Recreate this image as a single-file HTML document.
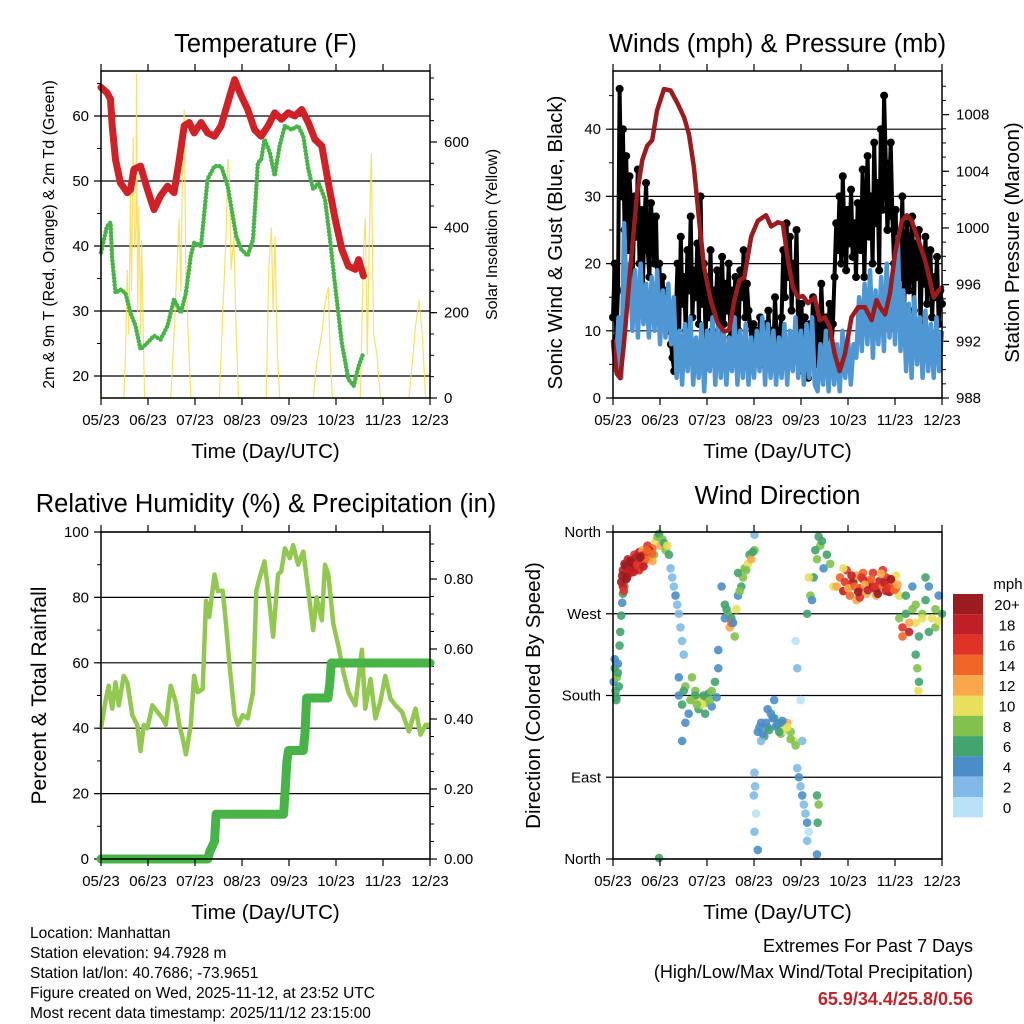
<!DOCTYPE html>
<html><head><meta charset="utf-8"><style>
html,body{margin:0;padding:0;background:#fff;}
svg{display:block;font-family:"Liberation Sans",Arial,sans-serif;}
</style></head><body>
<svg id="fig" width="1024" height="1024" viewBox="0 0 1024 1024" xmlns="http://www.w3.org/2000/svg"></svg>
<script>
// ---------- DATA ----------
// time values are fractions of the 7-day window (0..1); solar times in days
const xTickLabels = ["05/23","06/23","07/23","08/23","09/23","10/23","11/23","12/23"];
const tempTime = [0,.018,.029,.034,.044,.059,.080,.090,.100,.120,.141,.161,.181,.202,.222,.238,.253,.268,.283,.304,.324,.345,.365,.385,.406,.426,.446,.467,.487,.508,.528,.548,.569,.589,.610,.630,.650,.671,.691,.712,.732,.752,.773,.783,.798];
const tempValues = [64.4,63.6,62.6,58.5,53.3,49.7,48.2,48.7,51.8,52.3,48.7,45.6,47.7,49.2,48.2,53.3,58.5,59,57.4,59,57.4,56.9,58.5,62,65.6,63.1,61,57.9,56.9,58.5,60.5,59.5,60.5,60,61,59,56.4,55.4,49.7,44.1,39.5,36.9,36.4,37.9,35.4];
const dewTime = [0,.018,.029,.034,.044,.059,.074,.090,.105,.120,.141,.161,.181,.202,.222,.243,.258,.273,.283,.304,.324,.345,.365,.385,.395,.411,.426,.446,.462,.477,.487,.497,.513,.528,.543,.559,.579,.599,.615,.630,.645,.661,.681,.696,.712,.732,.752,.768,.783,.798];
const dewValues = [39,43,43.6,38,32.8,33.3,32.8,29.7,27.7,24.1,25.1,26.2,25.6,27.7,31.8,29.7,32.8,38.5,40.5,40,50.3,52.3,52.3,49.2,46.2,41.5,39.5,38.5,41,52.8,53.3,56.4,54.4,50.8,55.4,58.5,57.9,58.5,56.9,51.8,48.7,49.7,47.2,41,33.8,25.1,19.5,18.5,21.5,23.6];
const solarDays = [0,0.485,0.521,0.557,0.592,0.628,0.649,0.685,0.714,0.742,0.756,0.778,0.806,0.842,0.863,0.892,0.928,1.484,1.556,1.613,1.663,1.698,1.734,1.770,1.805,1.855,1.912,2.519,2.590,2.662,2.697,2.733,2.769,2.826,2.876,2.926,3.518,3.568,3.625,3.661,3.703,3.753,3.804,4.517,4.588,4.695,4.767,4.838,4.874,4.924,5.516,5.587,5.623,5.666,5.709,5.752,5.801,5.873,5.944,6.551,6.622,6.693,6.765,6.836,6.907,7];
const solarValues = [0,0,100,300,150,480,250,610,350,400,760,200,450,150,370,200,0,0,150,300,420,250,540,675,300,150,0,0,200,380,560,520,300,380,150,0,0,300,400,200,380,100,0,0,80,150,220,260,100,0,0,350,420,100,370,573,150,100,0,0,80,170,230,150,0,0];

const pressTime = [0,.012,.022,.033,.053,.073,.089,.104,.119,.134,.155,.175,.196,.216,.231,.246,.262,.277,.297,.318,.338,.353,.369,.384,.399,.420,.440,.465,.481,.501,.516,.532,.547,.562,.577,.593,.613,.628,.644,.659,.674,.689,.705,.725,.745,.766,.786,.801,.812,.827,.842,.857,.878,.893,.908,.929,.949,.975,.990,1];
const pressValues = [992.0,989.7,989.4,991.8,997.2,1002.4,1004.8,1005.8,1006.2,1008.3,1009.8,1009.7,1008.8,1007.8,1006.6,1004.3,1000.5,997.2,994.9,993.3,992.7,992.8,994.9,996.3,996.5,999.4,1000.5,1000.9,1000.1,1000.4,1000.3,997.7,995.8,995.1,995.2,994.7,995.1,993.5,993.7,993.0,991.1,989.9,991.1,993.7,994.4,994.4,993.5,994.9,994.4,993.9,995.4,998.2,1000.5,1000.9,1000.5,999.1,997.7,995.1,995.6,995.8];
const windValues = [8,4,12,3,26,14,20,10,19,9,20,11,17,9,18,10,19,8,16,9,17,8,15,3,10,2,11,4,12,2,9,3,11,1,10,4,12,2,11,3,10,2,9,4,12,2,10,3,11,2,9,3,10,4,12,2,11,3,10,2,9,3,11,2,10,4,12,3,10,2,11,3,12,2,1,8,2,10,1,9,2,8,1,10,3,9,2,8,6,15,7,17,8,19,6,16,8,18,7,20,9,18,8,24,7,16,4,14,3,15,5,12,3,13,4,11,3,12,4,10];
const gustValues = [12,20,9,16,46,30,40,25,36,22,33,28,18,30,24,34,20,28,16,26,32,22,18,29,24,20,27,15,20,14,18,12,16,10,14,8,6,4,12,20,9,24,14,18,10,22,16,27,12,19,15,23,11,30,14,20,9,18,12,22,10,16,13,19,8,15,21,11,17,13,20,9,16,12,18,14,10,19,15,22,12,17,13,11,8,11,6,10,7,12,5,9,11,6,13,8,10,7,15,9,6,10,12,22,15,26,18,24,13,20,16,25,10,6,14,4,12,8,3,11,7,15,9,5,13,8,17,10,6,12,9,14,7,11,18,26,22,30,20,33,24,19,28,23,31,21,26,18,29,24,22,34,18,28,36,24,30,20,38,26,32,19,40,28,45,35,25,30,38,27,20,28,14,24,18,30,12,22,26,16,20,27,13,23,18,25,11,21,17,24,14,19,22,12,18,15,21,11,16,14];

const rhTime = [0,.013,.023,.034,.044,.054,.069,.080,.095,.110,.120,.130,.141,.156,.171,.187,.197,.212,.227,.238,.248,.258,.273,.283,.294,.309,.319,.329,.345,.355,.370,.380,.390,.406,.416,.431,.446,.462,.472,.482,.497,.508,.523,.538,.548,.559,.574,.584,.599,.615,.630,.645,.655,.671,.681,.691,.706,.722,.737,.752,.773,.793,.803,.819,.834,.849,.864,.880,.895,.915,.936,.956,.971,.987,1];
const rhValues = [40,48,53,46,54,47,56,54,44,41,33,41,40,47,45,43,41,53,48,41,37,32,41,56,51,52,79,74,87,82,82,72,60,44,41,44,43,51,82,86,91,82,68,87,88,95,92,96,90,94,82,70,80,73,90,87,72,65,57,51,47,64,46,55,43,48,56,49,47,45,39,46,38,41,41];
const precipTime = [0,.325,.33,.345,.35,.555,.56,.565,.57,.615,.62,.625,.69,.695,.70,1];
const precipValues = [0,0,.02,.05,.128,.128,.2,.28,.31,.31,.36,.46,.46,.5,.56,.56];

const dirTime = [0.002,0.005,0.008,0.01,0.012,0.015,0.018,0.005,0.01,0.015,
 0.02,0.022,0.025,0.028,0.03,0.035,
 0.025,0.03,0.035,0.04,0.045,0.05,0.055,0.06,0.065,0.07,0.075,0.08,0.085,0.09,0.095,0.1,0.105,0.11,0.115,0.12,0.125,0.03,0.04,0.05,0.06,0.07,0.08,0.09,0.1,0.11,0.12,
 0.028,0.038,0.048,0.058,0.068,0.078,0.088,0.098,0.108,0.118,0.033,0.043,0.053,0.063,0.073,0.083,0.093,0.103,
 0.13,0.135,0.14,0.145,0.15,0.155,0.16,0.165,0.17,
 0.175,0.18,0.185,0.19,0.195,0.2,0.205,0.21,0.215,0.2,
 0.2,0.21,0.22,0.23,0.24,0.25,0.26,0.27,0.28,0.29,0.3,0.31,0.32,0.22,0.24,0.26,0.28,0.3,0.32,0.25,0.27,0.21,
 0.215,0.235,0.255,0.275,0.295,0.315,
 0.33,0.34,0.35,0.355,0.36,0.37,0.375,0.38,0.39,0.395,0.4,0.41,0.415,0.42,0.43,0.34,0.36,0.38,0.43,
 0.345,0.365,0.385,0.405,0.425,
 0.44,0.45,0.46,0.47,0.48,0.49,0.5,0.51,0.52,0.53,0.54,0.55,0.555,0.45,0.47,0.49,0.51,0.53,0.54,
 0.445,0.455,0.465,0.475,0.485,0.495,0.505,0.515,
 0.43,0.432,0.435,0.43,0.44,0.428,0.56,0.565,0.57,0.575,0.58,0.585,0.59,0.595,0.575,0.57,0.59,0.555,0.56,
 0.62,0.625,0.622,0.62,
 0.59,0.6,0.61,0.62,0.625,0.63,0.64,0.65,0.66,0.67,0.605,0.615,0.635,0.595,
 0.68,0.69,0.7,0.71,0.72,0.73,0.74,0.75,0.76,0.77,0.78,0.79,0.8,0.81,0.82,0.83,0.84,0.85,0.86,0.87,0.7,0.72,0.74,0.76,0.78,0.8,0.82,0.84,0.86,0.75,0.79,0.83,
 0.705,0.715,0.725,0.735,0.745,0.755,0.765,0.775,0.785,0.795,0.805,0.815,0.825,0.835,0.845,0.855,0.865,
 0.87,0.88,0.89,0.9,0.91,0.92,0.93,0.94,0.95,0.96,0.97,0.98,0.99,1.0,0.88,0.9,0.92,0.94,0.96,0.98,0.89,0.91,0.95,0.99,
 0.92,0.925,0.93,0.928,0.14];
const dirValues = [195,210,185,178,200,215,190,220,175,205,
 235,250,268,282,292,300,
 305,318,325,312,330,322,315,328,335,320,326,338,332,340,328,336,345,330,338,342,335,300,308,315,320,330,318,325,332,340,328,
 312,322,318,326,332,318,334,330,338,336,295,310,328,316,324,332,322,340,
 350,355,358,345,352,348,340,345,335,
 320,310,300,290,280,270,255,240,225,200,
 180,170,190,160,175,185,165,178,172,182,168,195,210,150,200,175,160,185,230,180,170,130,
 185,175,170,180,175,178,
 300,280,270,255,265,245,275,290,300,310,320,325,335,330,340,265,260,315,357,
 275,260,295,318,338,
 140,150,135,145,160,155,148,138,142,150,140,130,125,130,165,175,150,145,132,
 145,138,150,142,155,146,140,152,
 95,80,50,30,10,70,100,90,80,70,60,50,40,30,130,175,20,240,210,
 70,60,40,5,
 270,290,310,330,355,345,320,335,325,300,285,340,350,310,
 300,310,295,318,290,305,312,298,308,292,302,315,296,306,300,310,294,304,298,290,320,300,285,315,305,290,318,300,312,288,300,295,
 305,298,312,300,294,310,302,296,308,300,292,314,304,298,308,296,302,
 265,255,270,250,275,260,245,270,285,300,265,255,290,270,245,260,280,265,250,275,290,300,310,262,
 225,210,195,185,1];
const dirSpeeds = [5,6,7,6,8,4,6,5,7,6,
 6,6,6,5,7,6,
 20,18,20,16,18,20,14,18,16,20,14,18,16,12,18,14,16,12,10,14,8,18,20,16,20,18,14,16,12,18,12,
 20,20,18,20,18,16,18,14,16,14,16,20,20,18,16,20,18,14,
 10,8,6,12,8,6,8,10,6,
 2,3,2,4,2,3,2,2,3,4,
 4,6,8,4,10,8,6,12,8,6,4,6,4,4,8,10,6,8,4,6,10,4,
 6,8,8,6,8,4,
 4,6,8,12,6,8,10,4,6,8,8,10,6,12,8,4,14,6,2,
 6,4,8,8,6,
 4,4,6,4,4,6,4,8,10,12,8,10,8,2,4,4,6,10,8,
 4,4,4,6,4,4,6,4,
 2,2,0,2,4,2,2,4,2,4,2,2,4,0,2,0,2,0,2,
 6,8,6,4,
 6,8,6,8,6,8,4,6,8,10,4,6,6,10,
 12,14,18,16,14,20,12,16,18,12,14,16,20,18,14,16,20,12,14,10,10,16,12,14,18,12,16,14,10,16,20,18,
 16,12,18,14,20,16,12,18,14,16,20,12,18,16,20,14,12,
 8,16,6,18,8,10,6,8,6,4,10,8,4,6,14,12,8,10,6,8,6,4,6,10,
 6,8,6,10,6];
const speedLabels = ["20+","18","16","14","12","10","8","6","4","2","0"];
const speedColors = ["#9b1b1e","#c11f26","#e03328","#f26529","#f9a74a","#e8e05a","#80c24b","#43a46d","#4a8ec8","#7fbbe6","#b7e2f7"];

// ---------- DRAWING ----------
const NS="http://www.w3.org/2000/svg";
const svg=document.getElementById('fig');
function el(tag,attrs,parent){const e=document.createElementNS(NS,tag);for(const k in attrs)e.setAttribute(k,attrs[k]);(parent||svg).appendChild(e);return e;}
function txt(s,x,y,size,anchor,parent,extra){const t=el('text',Object.assign({x:x,y:y,'font-size':size,'text-anchor':anchor||'middle',fill:'#000'},extra||{}),parent);t.textContent=s;return t;}

const L1=101,R1=430,L2=613,R2=942,T1=71,B1=398,T2=532,B2=859;
function xs(L,R){return t=>L+t*(R-L);}

function frame(g,L,R,T,B){
  el('rect',{x:L,y:T,width:R-L,height:B-T,fill:'none',stroke:'#000','stroke-width':1.5},g);
  xTickLabels.forEach((s,i)=>{const x=L+i*(R-L)/7;
    el('line',{x1:x,y1:T,x2:x,y2:T-7,stroke:'#000','stroke-width':1.2},g);
    el('line',{x1:x,y1:B,x2:x,y2:B+7,stroke:'#000','stroke-width':1.2},g);
    const lab=txt(s,x,B+27,15,'middle',g);
    
    
  });
  const xt=txt('Time (Day/UTC)',(L+R)/2,B+60,20.5,'middle',g);
  
  
}
function leftAxis(g,L,R,vals,yf,fmt,minorStep,lo,hi,grid){
  vals.forEach(v=>{const y=yf(v);
    if(grid) el('line',{x1:L-7,y1:y,x2:R,y2:y,stroke:'#000','stroke-width':1.2},g);
    else el('line',{x1:L-7,y1:y,x2:L,y2:y,stroke:'#000','stroke-width':1.2},g);
    const t=txt(fmt(v),L-12,y+5,15,'end',g);
    
    
  });
  if(minorStep) for(let v=lo;v<=hi+1e-9;v+=minorStep){const y=yf(v); el('line',{x1:L-4,y1:y,x2:L,y2:y,stroke:'#000','stroke-width':1},g);}
}
function rightAxis(g,R,vals,yf,fmt,minorStep,lo,hi){
  vals.forEach(v=>{const y=yf(v);
    el('line',{x1:R,y1:y,x2:R+7,y2:y,stroke:'#000','stroke-width':1.2},g);
    const t=txt(fmt(v),R+14,y+5,15,'start',g);
    
    
  });
  if(minorStep) for(let v=lo;v<=hi+1e-9;v+=minorStep){const y=yf(v); el('line',{x1:R,y1:y,x2:R+4,y2:y,stroke:'#000','stroke-width':1},g);}
}
function vlabel(s,x,y,size,g,name){const t=txt(s,x,y,size,'middle',g,{transform:`rotate(-90 ${x} ${y})`});return t;}
function poly(g,ts,vs,xf,yf,attrs){const pts=ts.map((t,i)=>xf(t).toFixed(1)+','+yf(vs[i]).toFixed(1)).join(' ');return el('polyline',Object.assign({points:pts,fill:'none'},attrs),g);}

// Panel 1: temperature
const p1=el('g',{});


const x1=xs(L1,R1);
const yT=v=>376-(v-20)*6.5;
const yS=w=>B1-w*0.4267;
const tt=txt('Temperature (F)',(L1+R1)/2,52,25.5,'middle',p1);
leftAxis(p1,L1,R1,[20,30,40,50,60],yT,v=>String(v),5,20,65,true);
rightAxis(p1,R1,[0,200,400,600],yS,v=>String(v),50,0,750);
const solar=poly(p1,solarDays,solarValues,d=>x1(d/7),yS,{stroke:'#f7dc4d','stroke-width':1.2,opacity:0.85});


const tl=poly(p1,tempTime,tempValues,x1,yT,{stroke:'#d02127','stroke-width':7,'stroke-linejoin':'round','stroke-linecap':'round'});


const dl=poly(p1,dewTime,dewValues,x1,yT,{stroke:'#48b447','stroke-width':4.5,'stroke-dasharray':'0 3.5','stroke-linecap':'round'});


frame(p1,L1,R1,T1,B1);
vlabel('2m & 9m T (Red, Orange) & 2m Td (Green)',54,(T1+B1)/2,16,p1,'temperature-y-axis-title');
vlabel('Solar Insolation (Yellow)',497,(T1+B1)/2,16,p1,'solar-y-axis-title');

// Panel 2: winds & pressure
const p2=el('g',{});


const x2=xs(L2,R2);
const yW=v=>B1-v*6.72;
const yP=p=>B1-(p-988)*14.17;
const wt=txt('Winds (mph) & Pressure (mb)',(L2+R2)/2,52,25.5,'middle',p2);
leftAxis(p2,L2,R2,[0,10,20,30,40],yW,v=>String(v),5,0,45,true);
rightAxis(p2,R2,[988,992,996,1000,1004,1008],yP,v=>String(v),1,988,1010);
const windTime=windValues.map((v,i)=>i/(windValues.length-1));
const gustTime=gustValues.map((v,i)=>i/(gustValues.length-1));
const gl=poly(p2,gustTime,gustValues,x2,yW,{stroke:'#000','stroke-width':4,'stroke-linejoin':'round'});


gustValues.forEach((v,i)=>{const c=el('circle',{cx:x2(gustTime[i]),cy:yW(v),r:4,fill:'#000'},p2);
  
  });
const wl=poly(p2,windTime,windValues,x2,yW,{stroke:'#4f97d3','stroke-width':4.5,'stroke-linejoin':'round'});


const pl=poly(p2,pressTime,pressValues,x2,yP,{stroke:'#9b1b1e','stroke-width':4.5,'stroke-linejoin':'round','stroke-linecap':'round'});


frame(p2,L2,R2,T1,B1);
vlabel('Sonic Wind & Gust (Blue, Black)',562,(T1+B1)/2+8,20.5,p2,'wind-y-axis-title');
vlabel('Station Pressure (Maroon)',1019,(T1+B1)/2+8,20.5,p2,'pressure-y-axis-title');

// Panel 3: RH & precip
const p3=el('g',{});


const x3=xs(L1,R1);
const yR=v=>B2-v*3.27;
const yPr=p=>B2-p*350;
const rt=txt('Relative Humidity (%) & Precipitation (in)',266,512,25.5,'middle',p3);
leftAxis(p3,L1,R1,[0,20,40,60,80,100],yR,v=>String(v),10,0,100,true);
rightAxis(p3,R1,[0,0.2,0.4,0.6,0.8],yPr,v=>v.toFixed(2),0.05,0,0.9);
const rl=poly(p3,rhTime,rhValues,x3,yR,{stroke:'#92c850','stroke-width':4.5,'stroke-linejoin':'round'});


const prl=poly(p3,precipTime,precipValues,x3,yPr,{stroke:'#48b447','stroke-width':9,'stroke-linejoin':'round','stroke-linecap':'round'});


frame(p3,L1,R1,T2,B2);
vlabel('Percent & Total Rainfall',46,(T2+B2)/2,21,p3,'humidity-y-axis-title');

// Panel 4: wind direction
const p4=el('g',{});


const x4=xs(L2,R2);
const yD=d=>B2-d*(B2-T2)/360;
const dt=txt('Wind Direction',(L2+R2)/2,504,25.5,'middle',p4);
const dirNames=['North','East','South','West','North'];
leftAxis(p4,L2,R2,[0,90,180,270,360],yD,v=>dirNames[v/90],0,0,0,true);
function spdColor(s){let k=Math.min(10,Math.floor(s/2));return speedColors[10-k];}
dirTime.forEach((t,i)=>{const c=el('circle',{cx:x4(t),cy:yD(dirValues[i]),r:4.3,fill:spdColor(dirSpeeds[i]),opacity:0.9},p4);
  
  });
frame(p4,L2,R2,T2,B2);
vlabel('Direction (Colored By Speed)',540,(T2+B2)/2,20.5,p4,'direction-y-axis-title');

// colorbar
const cb=el('g',{});


const mt=txt('mph',1008,589,15,'middle',cb);
speedLabels.forEach((s,i)=>{const y=594+i*20.3;
  const r=el('rect',{x:953,y:y,width:30,height:20.3,fill:speedColors[i]},cb);
  
  
  const t=txt(s,1007,y+16,15,'middle',cb);
  
  
});

// footer text
const ft=el('g',{});


["Location: Manhattan","Station elevation: 94.7928 m","Station lat/lon: 40.7686; -73.9651","Figure created on Wed, 2025-11-12, at 23:52 UTC","Most recent data timestamp: 2025/11/12 23:15:00"].forEach((s,i)=>{
  const t=txt(s,30,938+i*20,15.5,'start',ft);
  
  
});
const ex=el('g',{});


const e1=txt('Extremes For Past 7 Days',973,952,18,'end',ex);
const e2=txt('(High/Low/Max Wind/Total Precipitation)',973,978,18,'end',ex);
const e3=txt('65.9/34.4/25.8/0.56',973,1005,18,'end',ex,{fill:'#c0242b','font-weight':'bold'});
</script>
</body></html>
